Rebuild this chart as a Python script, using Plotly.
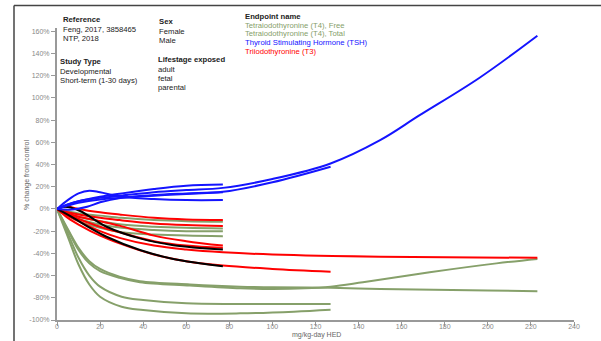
import plotly.graph_objects as go

# ---------------- data ----------------
# TSH (blue)
tsh1_x = [0, 5, 10, 15, 20, 30, 45, 60, 77]
tsh1_y = [0, 8, 14, 16.5, 15, 11, 9, 8, 8]
tsh2_x = [0, 5, 10, 20, 30, 45, 60, 77]
tsh2_y = [0, 4, 7, 11, 14, 18, 21, 22]
tsh3_x = [0, 5, 10, 20, 30, 45, 60, 77]
tsh3_y = [0, 3, 5.5, 8.5, 10, 12, 13.5, 15]
tsh4_x = [0, 7, 14, 20, 30, 45, 60, 77, 100, 127]
tsh4_y = [0, -0.5, 2, 6, 10, 12.5, 14, 15.5, 24, 38]
tsh5_x = [0, 5, 10, 20, 30, 45, 60, 77, 100, 127, 150, 168, 196, 223]
tsh5_y = [0, 4, 7, 10, 12, 15, 17, 19, 27, 41, 62, 84, 118, 156]

# T3 (red)
t3_1_x = [0, 4, 10, 20, 29, 45, 60, 77]
t3_1_y = [0, 2.5, 0, -3, -5, -8, -9.5, -10]
t3_2_x = [0, 5, 10, 20, 29, 45, 60, 77]
t3_2_y = [0, -3, -5, -8, -10, -13, -14.5, -15.4]
t3_3_x = [0, 5, 10, 20, 29, 45, 60, 77]
t3_3_y = [0, -4, -7, -11, -15, -24, -29, -33]
t3_4_x = [0, 5, 10, 20, 29, 45, 60, 77]
t3_4_y = [0, -5, -9, -16, -21, -29, -33, -35]
t3_5_x = [0, 5, 10, 20, 29, 45, 60, 77, 100, 150, 223]
t3_5_y = [0, -6, -11, -20, -26, -33, -36.5, -39, -41, -43, -44]
t3_6_x = [0, 5, 10, 20, 29, 45, 60, 77, 100, 127]
t3_6_y = [0, -8, -14, -24, -31, -41, -47, -51, -54, -56.5]

# highlighted (black)
blk1_x = [0, 3.7, 10.7, 23, 38.5, 54, 77]
blk1_y = [0, 2, -1.8, -16, -26.5, -32.6, -36.5]
blk2_x = [0, 7.6, 15.3, 23, 38.5, 54, 77]
blk2_y = [0, -8, -17, -25, -37, -45, -51.5]

# T4 (green)
t4_1_x = [0, 5, 10, 20, 30, 45, 60, 77]
t4_1_y = [0, -2, -4, -6, -8, -10, -11, -11.5]
t4_2_x = [0, 5, 10, 20, 30, 45, 60, 77]
t4_2_y = [0, -4, -7, -11, -14, -16, -17, -17.5]
t4_3_x = [0, 5, 10, 20, 30, 45, 60, 77]
t4_3_y = [0, -5, -9, -14, -17, -19, -20, -20]
t4_4_x = [0, 5, 10, 20, 30, 45, 60, 77]
t4_4_y = [0, -6, -11, -17, -21, -23, -24, -24.5]
t4_5_x = [0, 5, 10, 15, 20, 29, 38.5, 61.7, 85, 100, 127, 150, 175, 200, 223]
t4_5_y = [0, -18, -35, -47, -54, -61, -65, -68, -70, -70.5, -71, -72, -72.8, -73.5, -74]
t4_6_x = [0, 5, 10, 15, 20, 29, 38.5, 61.7, 85, 100, 115, 127, 142, 173, 204, 223]
t4_6_y = [0, -19, -37, -49, -56, -62, -66, -69, -71.5, -72, -71.5, -70, -66, -57, -49, -45]
t4_7_x = [0, 5, 10, 15, 20, 30, 40, 60, 85, 110, 127]
t4_7_y = [0, -22, -44, -60, -70, -79, -82, -85, -85.5, -85.5, -85.5]
t4_8_x = [0, 5, 10, 15, 20, 30, 40, 60, 85, 110, 127]
t4_8_y = [0, -25, -50, -68, -79, -88, -91, -94, -94, -92.5, -90.8]

y_tick_vals = [-100, -80, -60, -40, -20, 0, 20, 40, 60, 80, 100, 120, 140, 160]
y_tick_text = ["-100%", "-80%", "-60%", "-40%", "-20%", "0%", "20%", "40%",
               "60%", "80%", "100%", "120%", "140%", "160%"]
x_tick_vals = [0, 20, 40, 60, 80, 100, 120, 140, 160, 180, 200, 220, 240]

endpoint_names = ["Tetraiodothyronine (T4), Free", "Tetraiodothyronine (T4), Total",
                  "Thyroid Stimulating Hormone (TSH)", "Triiodothyronine (T3)"]
reference_items = ["Feng, 2017, 3858465", "NTP, 2018"]
study_items = ["Developmental", "Short-term (1-30 days)"]
sex_items = ["Female", "Male"]
life_items = ["adult", "fetal", "parental"]

# ---------------- styling ----------------
GREEN = "rgb(134,160,106)"
BLUE = "rgb(20,20,255)"
RED = "rgb(255,0,0)"
BLACK = "rgb(0,0,0)"
FONT = "Liberation Sans, Arial, sans-serif"
TS = 7.7

W, H = 601, 341
L, R, T, B = 57, 27, 28, 21
PW, PH = W - L - R, H - T - B


def px(x):
    return (x - L) / PW


def py(y):
    return (H - B - y) / PH


fig = go.Figure()

groups = [
    (GREEN, [(t4_1_x, t4_1_y), (t4_2_x, t4_2_y), (t4_3_x, t4_3_y), (t4_4_x, t4_4_y),
             (t4_5_x, t4_5_y), (t4_6_x, t4_6_y), (t4_7_x, t4_7_y), (t4_8_x, t4_8_y)]),
    (RED, [(t3_1_x, t3_1_y), (t3_2_x, t3_2_y), (t3_3_x, t3_3_y), (t3_4_x, t3_4_y),
           (t3_5_x, t3_5_y), (t3_6_x, t3_6_y)]),
    (BLACK, [(blk1_x, blk1_y), (blk2_x, blk2_y)]),
    (BLUE, [(tsh1_x, tsh1_y), (tsh2_x, tsh2_y), (tsh3_x, tsh3_y), (tsh4_x, tsh4_y),
            (tsh5_x, tsh5_y)]),
]
for color, curves in groups:
    for xs, ys in curves:
        fig.add_trace(go.Scatter(x=xs, y=ys, mode="lines",
                                 line=dict(color=color, width=2, shape="spline", smoothing=1),
                                 showlegend=False, hoverinfo="skip"))

axis_common = dict(showgrid=False, zeroline=False, showline=True, linecolor="#999",
                   linewidth=2, ticks="outside", ticklen=4, tickcolor="#999", tickwidth=1,
                   tickfont=dict(family=FONT, size=7, color="#888"))
fig.update_xaxes(range=[0, 240], tickvals=x_tick_vals, ticklabelstandoff=-5, **axis_common)
fig.update_yaxes(range=[-100, 163], tickvals=y_tick_vals, ticktext=y_tick_text, **axis_common)

ann = []


def text(x, y, s, bold=False, color="#222", size=TS):
    ann.append(dict(x=px(x), y=py(y), xref="paper", yref="paper", text=("<b>%s</b>" % s) if bold else s,
                    showarrow=False, xanchor="left", yanchor="middle",
                    font=dict(family=FONT, size=size, color=color)))


text(61, 20, "Reference", bold=True)
for i, s in enumerate(reference_items):
    text(61, 29.3 + 9 * i, s)
text(58, 61, "Study Type", bold=True)
for i, s in enumerate(study_items):
    text(58, 71 + 9.3 * i, s)
text(157, 21.5, "Sex", bold=True)
for i, s in enumerate(sex_items):
    text(157, 31 + 9 * i, s)
text(156, 59.3, "Lifestage exposed", bold=True)
for i, s in enumerate(life_items):
    text(156, 69 + 9.3 * i, s)
text(243, 16.7, "Endpoint name", bold=True)
ep_colors = [GREEN, GREEN, BLUE, RED]
for i, (s, c) in enumerate(zip(endpoint_names, ep_colors)):
    text(243, 25.3 + 8.7 * i, s, color=c)

ann.append(dict(x=px(27), y=py(175), xref="paper", yref="paper", text="% change from control",
                textangle=-90, showarrow=False, xanchor="center", yanchor="middle",
                font=dict(family=FONT, size=7, color="#666")))
ann.append(dict(x=px(316), y=py(334.5), xref="paper", yref="paper", text="mg/kg-day HED",
                showarrow=False, xanchor="center", yanchor="middle",
                font=dict(family=FONT, size=7, color="#666")))

shapes = [
    dict(type="line", xref="paper", yref="paper", x0=px(14), x1=px(601), y0=py(5.5), y1=py(5.5),
         line=dict(color="#444", width=1.5)),
    dict(type="line", xref="paper", yref="paper", x0=px(14), x1=px(14), y0=py(5.5), y1=py(341),
         line=dict(color="#444", width=1.5)),
]

fig.update_layout(width=W, height=H, margin=dict(l=L, r=R, t=T, b=B, autoexpand=False),
                  paper_bgcolor="white", plot_bgcolor="white", annotations=ann, shapes=shapes,
                  showlegend=False, font=dict(family=FONT))

fig.write_html("out.html", config={"displayModeBar": False},
               post_script="document.body.style.margin='0';document.body.style.overflow='hidden';")
